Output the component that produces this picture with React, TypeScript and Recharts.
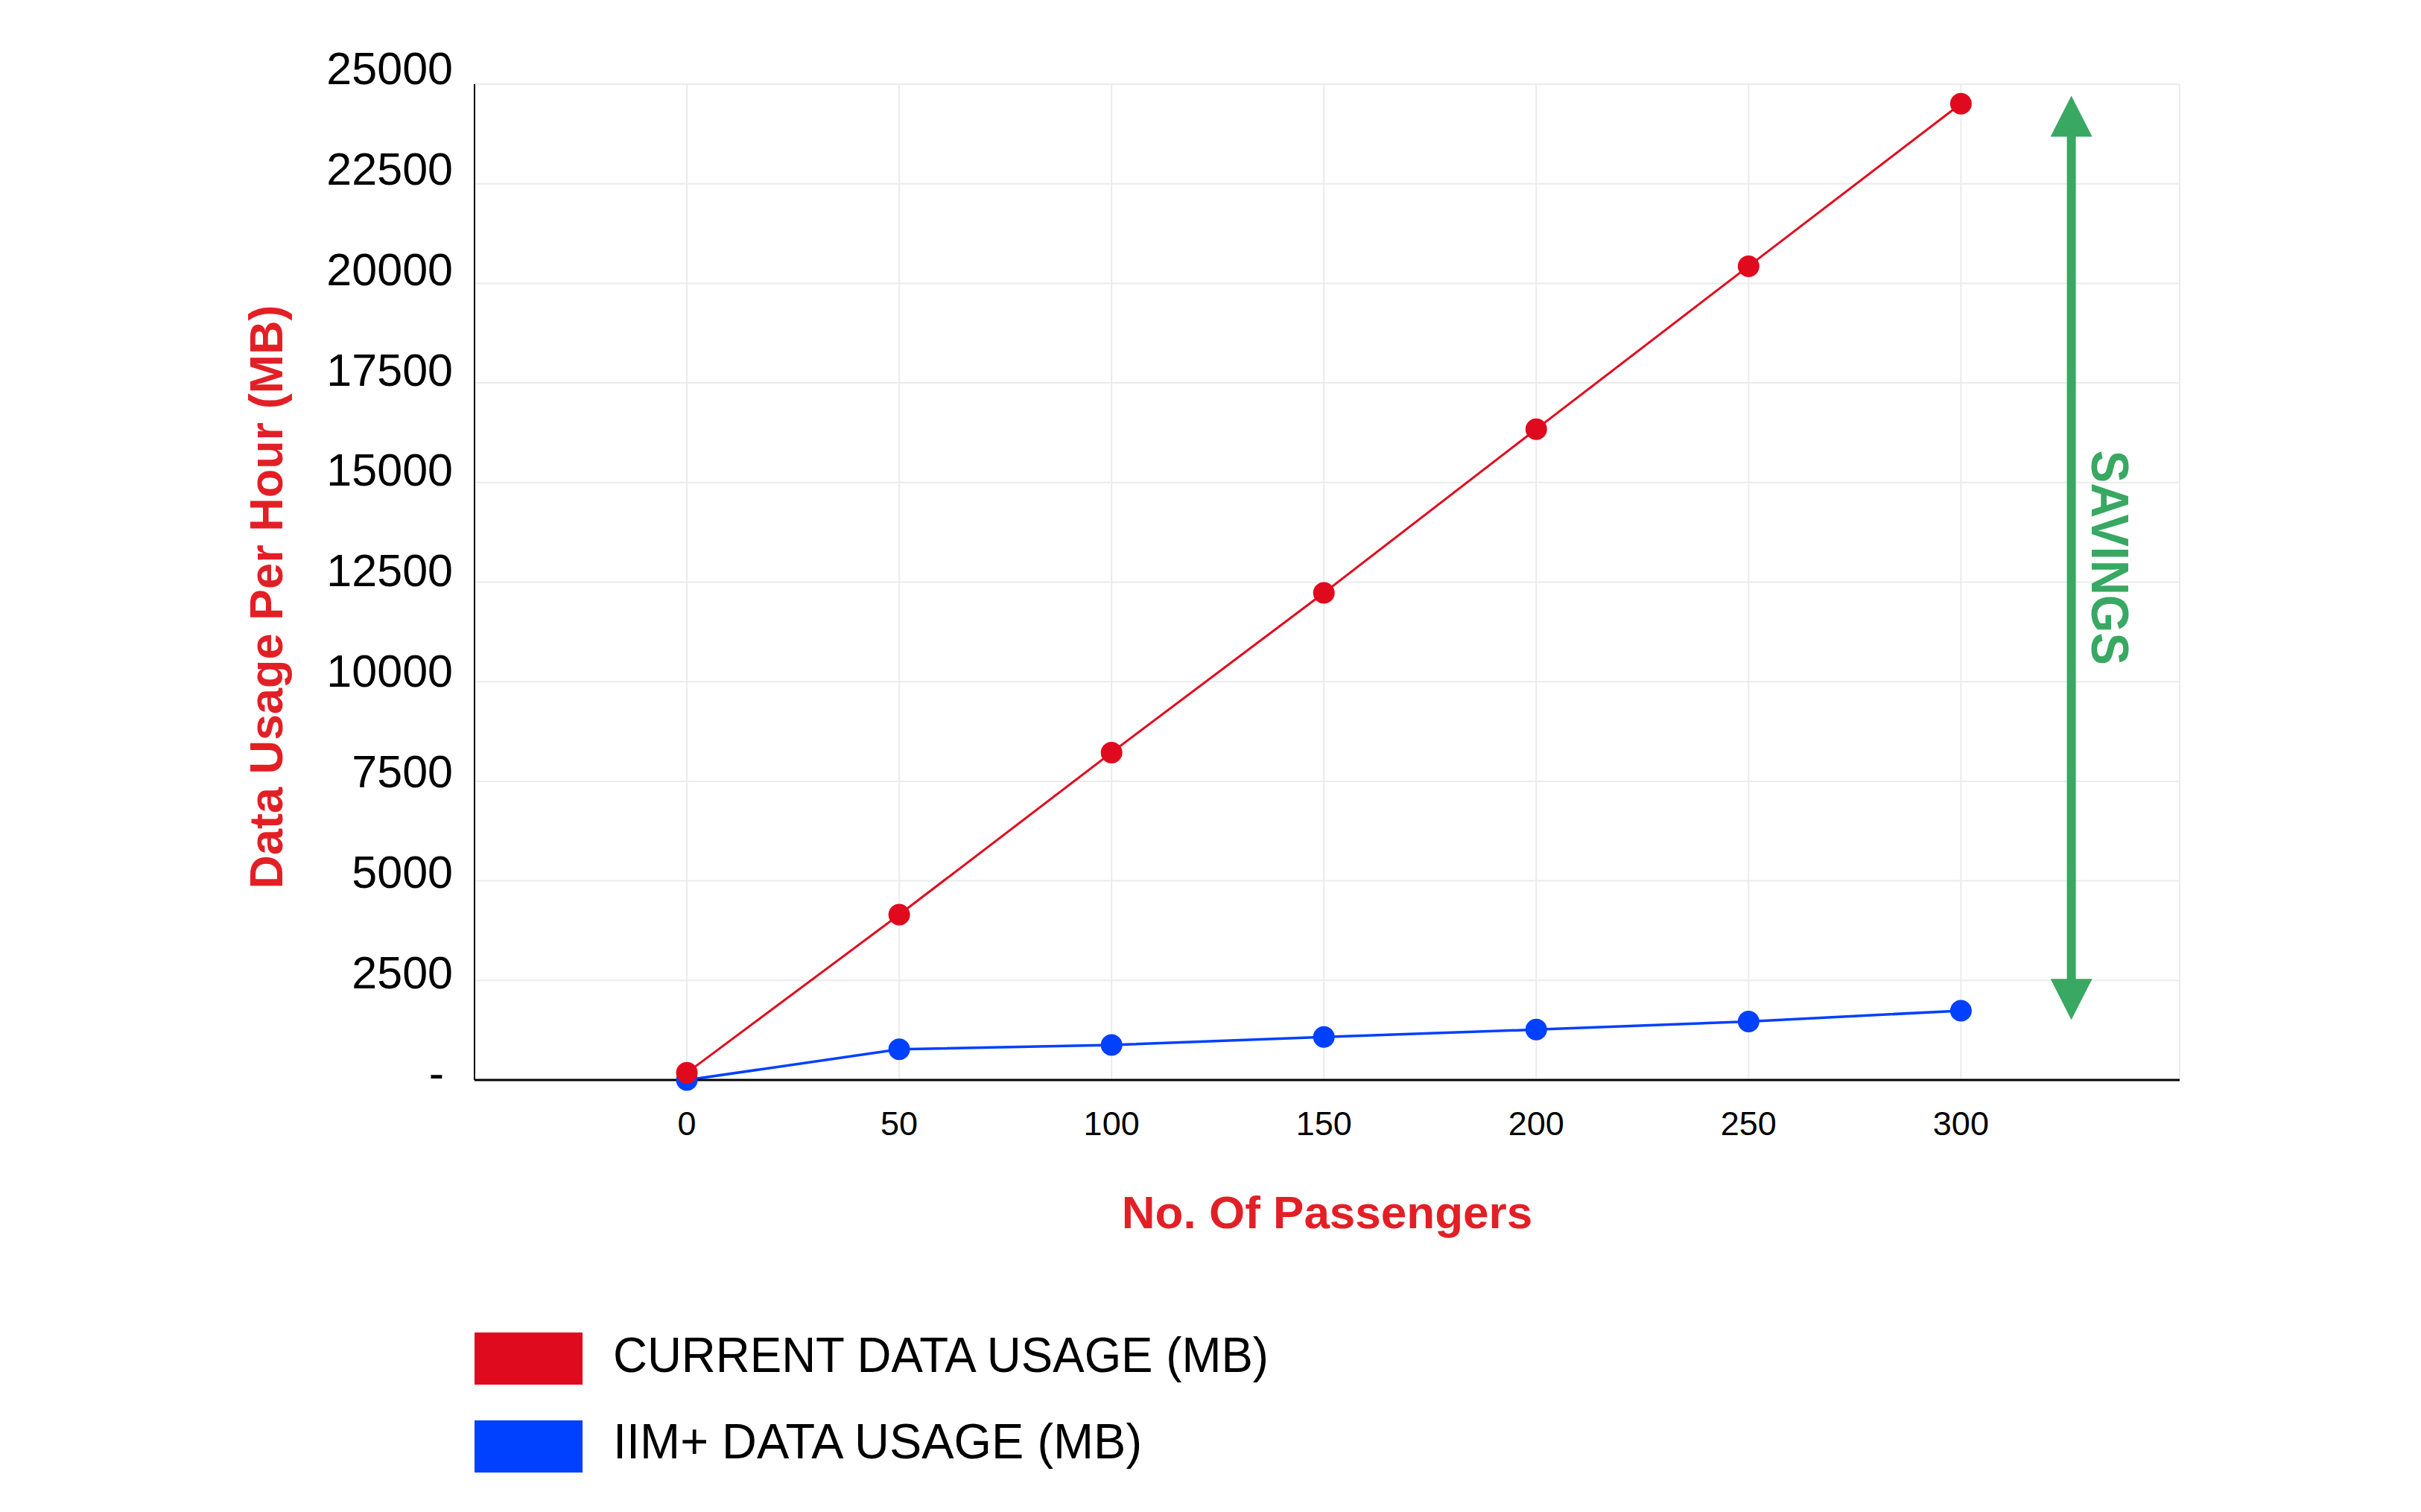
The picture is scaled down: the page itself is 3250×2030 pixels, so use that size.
import React from 'react';
import { LineChart, Line, XAxis, YAxis, CartesianGrid, Legend, ReferenceLine } from 'recharts';

// ---- data ----
const passengers = [0, 50, 100, 150, 200, 250, 300];
const currentUsage = [180, 4150, 8220, 12230, 16340, 20430, 24510];
const iimUsage = [0, 770, 880, 1080, 1265, 1470, 1740];
const yTicks = [0, 2500, 5000, 7500, 10000, 12500, 15000, 17500, 20000, 22500, 25000];
const xDomain = [-50, 351.5];
const yDomain = [0, 25000];
const seriesNames = ['CURRENT DATA USAGE (MB)', 'IIM+ DATA USAGE (MB)'];
const savingsX = 326;
const savingsRange = [1510, 24710];
const savingsLabel = 'SAVINGS';

const data = passengers.map((p, i) => ({ passengers: p, current: currentUsage[i], iim: iimUsage[i] }));

const RED = '#e00a1e';
const BLUE = '#0040ff';
const GREEN = '#38a862';
const LABEL_RED = '#e31f26';
const FONT = '"Liberation Sans", Arial, Helvetica, sans-serif';

const YTick = (props: any) => {
  const { x, y, payload } = props;
  const v = payload.value as number;
  const t = v / yDomain[1];
  const baseline = y + 11.8 - 12 * t;
  return (
    <text x={v === 0 ? x - 12 : x} y={baseline} textAnchor="end" fontFamily={FONT} fontSize={61} fill="#000">
      {v === 0 ? '-' : String(v)}
    </text>
  );
};

const XTick = (props: any) => {
  const { x, y, payload } = props;
  return (
    <text x={x} y={y + 33} textAnchor="middle" fontFamily={FONT} fontSize={45} fill="#000">
      {payload.value}
    </text>
  );
};

const YLabel = (props: any) => {
  const vb = props.viewBox;
  const cx = vb.x - 80;
  const cy = vb.y + vb.height / 2 + 20;
  return (
    <text
      x={cx}
      y={cy}
      transform={`rotate(-90, ${cx}, ${cy})`}
      textAnchor="middle"
      dominantBaseline="central"
      fontFamily={FONT}
      fontWeight="bold"
      fontSize={63}
      fill={LABEL_RED}
    >
      Data Usage Per Hour (MB)
    </text>
  );
};

const XLabel = (props: any) => {
  const vb = props.viewBox;
  return (
    <text
      x={vb.x + vb.width / 2}
      y={vb.y + 199}
      textAnchor="middle"
      fontFamily={FONT}
      fontWeight="bold"
      fontSize={62}
      fill={LABEL_RED}
    >
      No. Of Passengers
    </text>
  );
};

const SavingsArrow = (props: any) => {
  const { x1, y1, x2, y2 } = props;
  const x = (x1 + x2) / 2;
  const top = Math.min(y1, y2);
  const bottom = Math.max(y1, y2);
  const headLen = 55;
  const headHalf = 28;
  const shaftHalf = 6;
  const mid = (top + bottom) / 2;
  const tx = x + 51;
  return (
    <g>
      <rect x={x - shaftHalf} y={top + headLen - 2} width={shaftHalf * 2} height={bottom - top - 2 * headLen + 4} fill={GREEN} />
      <polygon points={`${x},${top} ${x - headHalf},${top + headLen} ${x + headHalf},${top + headLen}`} fill={GREEN} />
      <polygon points={`${x},${bottom} ${x - headHalf},${bottom - headLen} ${x + headHalf},${bottom - headLen}`} fill={GREEN} />
      <text
        x={tx}
        y={mid}
        transform={`rotate(90, ${tx}, ${mid})`}
        textAnchor="middle"
        dominantBaseline="central"
        fontFamily={FONT}
        fontWeight="bold"
        fontSize={70}
        fill={GREEN}
        textLength={288}
        lengthAdjust="spacingAndGlyphs"
      >
        {savingsLabel}
      </text>
    </g>
  );
};

const LegendContent = () => {
  const colors = [RED, BLUE];
  const widths = [880, 710];
  return (
    <svg width={1200} height={220} style={{ display: 'block', overflow: 'visible' }}>
      {seriesNames.map((name, i) => (
        <g key={name}>
          <rect x={0} y={i * 118} width={145} height={70} fill={colors[i]} />
          <text
            x={186}
            y={i * 116 + 53}
            fontFamily={FONT}
            fontSize={66}
            fill="#000"
            textLength={widths[i]}
            lengthAdjust="spacingAndGlyphs"
          >
            {name}
          </text>
        </g>
      ))}
    </svg>
  );
};

export default function App() {
  return (
    <div style={{ width: 3234, height: 2014, background: '#fff' }}>
      <LineChart width={3234} height={2014} data={data} margin={{ top: 105, right: 316, left: 429, bottom: 372 }}>
        <CartesianGrid stroke="#ebebeb" strokeWidth={2} />
        <XAxis
          type="number"
          dataKey="passengers"
          domain={xDomain}
          ticks={passengers}
          height={200}
          tickLine={false}
          tickSize={0}
          tickMargin={41}
          axisLine={{ stroke: '#000', strokeWidth: 3 }}
          tick={<XTick />}
          label={XLabel}
          allowDataOverflow
        />
        <YAxis
          type="number"
          domain={yDomain}
          ticks={yTicks}
          width={200}
          tickLine={false}
          tickSize={0}
          tickMargin={29}
          axisLine={{ stroke: '#000', strokeWidth: 2 }}
          tick={<YTick />}
          label={YLabel}
          interval={0}
        />
        <Line
          type="linear"
          dataKey="iim"
          name={seriesNames[1]}
          stroke={BLUE}
          strokeWidth={3.5}
          dot={{ r: 14.5, fill: BLUE, stroke: 'none' }}
          activeDot={false}
          isAnimationActive={false}
        />
        <Line
          type="linear"
          dataKey="current"
          name={seriesNames[0]}
          stroke={RED}
          strokeWidth={3}
          dot={{ r: 14.5, fill: RED, stroke: 'none' }}
          activeDot={false}
          isAnimationActive={false}
        />
        <ReferenceLine
          segment={[
            { x: savingsX, y: savingsRange[1] },
            { x: savingsX, y: savingsRange[0] },
          ]}
          shape={(p: any) => <SavingsArrow {...p} />}
        />
        <Legend
          layout="vertical"
          align="center"
          verticalAlign="middle"
          content={<LegendContent />}
          wrapperStyle={{ left: 629, top: 1781, width: 1200, height: 220 }}
        />
      </LineChart>
    </div>
  );
}
